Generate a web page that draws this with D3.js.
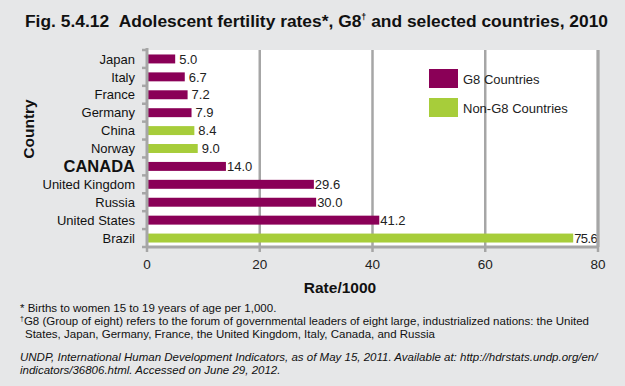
<!DOCTYPE html>
<html>
<head>
<meta charset="utf-8">
<script src="https://cdn.jsdelivr.net/npm/d3@7"></script>
<style>
  body { margin: 0; background: #e6e7e8; }
  svg { display: block; font-family: "Liberation Sans", Arial, sans-serif; }
</style>
</head>
<body>
<svg id="chart" width="625" height="386"></svg>
<script>
const countries = ["Japan", "Italy", "France", "Germany", "China", "Norway", "CANADA",
    "United Kingdom", "Russia", "United States", "Brazil"];
const rates = [5.0, 6.7, 7.2, 7.9, 8.4, 9.0, 14.0, 29.6, 30.0, 41.2, 75.6];
const groups = ["G8", "G8", "G8", "G8", "Non-G8", "Non-G8", "G8", "G8", "G8", "G8", "Non-G8"];
const xTicks = [0, 20, 40, 60, 80];
const legendLabels = ["G8 Countries", "Non-G8 Countries"];

const colors = { "G8": "#8a0057", "Non-G8": "#a7cd3a" };
const data = countries.map((c, i) => ({ name: c, value: rates[i], group: groups[i] }));

const svg = d3.select('#chart');
const plotLeft = 147, plotRight = 598, plotTop = 50, plotBottom = 247;

const x = d3.scaleLinear().domain([0, 80]).range([plotLeft, plotRight]);
const y = d3.scaleBand().domain(countries).range([plotTop, plotBottom]).paddingInner(0.5).paddingOuter(0.25);

svg.append('rect').attr('width', 625).attr('height', 386).attr('fill', '#e6e7e8');

// title
svg.append('text')
    .attr('x', 25).attr('y', 27)
    .attr('font-size', 17.4).attr('font-weight', 'bold').attr('fill', '#111')
    .html('Fig. 5.4.12&#160;&#160;Adolescent fertility rates*, G8<tspan font-size="9" dy="-7">†</tspan><tspan dy="7"> and selected countries, 2010</tspan>');

// plot area
svg.append('rect')
    .attr('x', plotLeft).attr('y', plotTop)
    .attr('width', plotRight - plotLeft).attr('height', plotBottom - plotTop)
    .attr('fill', '#fff');

// gridlines
svg.append('g')
    .selectAll('line')
    .data(xTicks.slice(1))
    .enter()
    .append('line')
    .attr('x1', d => x(d)).attr('x2', d => x(d))
    .attr('y1', plotTop).attr('y2', plotBottom)
    .attr('stroke', '#a6a6a6').attr('stroke-width', 2.5);

// bars
svg.append('g')
    .selectAll('rect')
    .data(data)
    .enter()
    .append('rect')
    .attr('x', x(0) + 1)
    .attr('y', d => y(d.name))
    .attr('width', d => x(d.value) - x(0) - 1)
    .attr('height', y.bandwidth())
    .attr('fill', d => colors[d.group]);

// value labels
svg.append('g')
    .selectAll('text')
    .data(data)
    .enter()
    .append('text')
    .attr('x', d => x(d.value) + (d.value > 10 ? 1 : 4))
    .attr('y', d => y(d.name) + y.bandwidth() / 2)
    .attr('dy', '0.36em')
    .attr('font-size', 13).attr('fill', '#222')
    .attr('letter-spacing', d => d.value > 70 ? -0.6 : 0)
    .text(d => d.value.toFixed(1));

// y axis
const yAxis = svg.append('g');
yAxis.append('line')
    .attr('x1', plotLeft).attr('x2', plotLeft).attr('y1', plotTop - 2).attr('y2', plotBottom + 1)
    .attr('stroke', '#a6a6a6').attr('stroke-width', 3);
yAxis.selectAll('line.tick')
    .data(d3.range(countries.length + 1))
    .enter()
    .append('line')
    .attr('class', 'tick')
    .attr('x1', plotLeft - 5).attr('x2', plotLeft)
    .attr('y1', i => plotTop + i * (plotBottom - plotTop) / countries.length)
    .attr('y2', i => plotTop + i * (plotBottom - plotTop) / countries.length)
    .attr('stroke', '#a6a6a6').attr('stroke-width', 2.5);
yAxis.selectAll('text')
    .data(data)
    .enter()
    .append('text')
    .attr('x', 135)
    .attr('y', d => y(d.name) + y.bandwidth() / 2)
    .attr('dy', '0.36em')
    .attr('text-anchor', 'end')
    .attr('font-size', d => d.name === 'CANADA' ? 16.5 : 13)
    .attr('font-weight', d => d.name === 'CANADA' ? 'bold' : 'normal')
    .attr('fill', '#111')
    .text(d => d.name);

// x axis
const xAxis = svg.append('g');
xAxis.append('line')
    .attr('x1', plotLeft - 1).attr('x2', plotRight + 1).attr('y1', plotBottom).attr('y2', plotBottom)
    .attr('stroke', '#a6a6a6').attr('stroke-width', 3);
svg.append('line')
    .attr('x1', plotRight).attr('x2', plotRight).attr('y1', plotTop).attr('y2', plotBottom)
    .attr('stroke', '#a6a6a6').attr('stroke-width', 3);
xAxis.selectAll('line.tick')
    .data(xTicks)
    .enter()
    .append('line')
    .attr('x1', d => x(d)).attr('x2', d => x(d))
    .attr('y1', plotBottom).attr('y2', plotBottom + 5)
    .attr('stroke', '#a6a6a6').attr('stroke-width', 2.5);
xAxis.selectAll('text')
    .data(xTicks)
    .enter()
    .append('text')
    .attr('x', d => x(d))
    .attr('y', 269)
    .attr('text-anchor', 'middle')
    .attr('font-size', 13.5).attr('fill', '#222')
    .text(d => d);

// axis titles
svg.append('text')
    .attr('x', 340).attr('y', 293)
    .attr('text-anchor', 'middle')
    .attr('font-size', 15.5).attr('font-weight', 'bold').attr('fill', '#111')
    .text('Rate/1000');
svg.append('text')
    .attr('transform', 'translate(34,129) rotate(-90)')
    .attr('text-anchor', 'middle')
    .attr('font-size', 15.5).attr('font-weight', 'bold').attr('fill', '#111')
    .text('Country');

// legend
const legend = svg.append('g');
legendLabels.forEach((lab, i) => {
    legend.append('rect')
        .attr('x', 429).attr('y', 69 + i * 29)
        .attr('width', 29).attr('height', 19)
        .attr('fill', colors[i === 0 ? 'G8' : 'Non-G8']);
    legend.append('text')
        .attr('x', 463).attr('y', 79 + i * 29)
        .attr('dy', '0.36em')
        .attr('font-size', 13).attr('fill', '#222')
        .text(lab);
});

// footnotes
const notes = svg.append('g').attr('font-size', 11.5).attr('fill', '#111');
notes.append('text').attr('x', 20).attr('y', 312)
    .text('* Births to women 15 to 19 years of age per 1,000.');
notes.append('text').attr('x', 20).attr('y', 325)
    .html('<tspan font-size="7" dy="-4">†</tspan><tspan dy="4">G8 (Group of eight) refers to the forum of governmental leaders of eight large, industrialized nations: the United</tspan>');
notes.append('text').attr('x', 25).attr('y', 338)
    .text('States, Japan, Germany, France, the United Kingdom, Italy, Canada, and Russia');
notes.append('text').attr('x', 20).attr('y', 361).attr('font-style', 'italic')
    .text('UNDP, International Human Development Indicators, as of May 15, 2011. Available at: http://hdrstats.undp.org/en/');
notes.append('text').attr('x', 20).attr('y', 374).attr('font-style', 'italic')
    .text('indicators/36806.html. Accessed on June 29, 2012.');
</script>
</body>
</html>
